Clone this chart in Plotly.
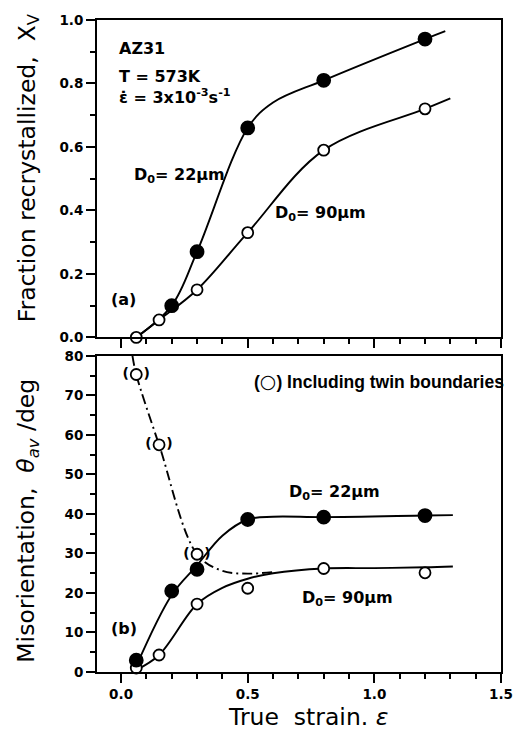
import plotly.graph_objects as go

# ---------------- data ----------------
# (a) fraction recrystallized
strain_a_22 = [0.2, 0.3, 0.5, 0.8, 1.2]
xv_22 = [0.10, 0.27, 0.66, 0.81, 0.94]
strain_a_90 = [0.06, 0.15, 0.3, 0.5, 0.8, 1.2]
xv_90 = [0.0, 0.055, 0.15, 0.33, 0.59, 0.72]
# hand-drawn guide curves (a)
fit_a_22_x = [0.06, 0.2, 0.3, 0.5, 0.6, 0.8, 1.2, 1.28]
fit_a_22_y = [0.0, 0.10, 0.27, 0.66, 0.74, 0.81, 0.94, 0.965]
fit_a_90_x = [0.06, 0.15, 0.3, 0.5, 0.8, 1.2, 1.3]
fit_a_90_y = [0.0, 0.055, 0.15, 0.33, 0.59, 0.72, 0.753]

# (b) misorientation
strain_b_22 = [0.06, 0.2, 0.3, 0.5, 0.8, 1.2]
theta_22 = [3.0, 20.5, 26.0, 38.6, 39.2, 39.6]
strain_b_90 = [0.06, 0.15, 0.3, 0.5, 0.8, 1.2]
theta_90 = [1.0, 4.3, 17.2, 21.2, 26.2, 25.1]
strain_twin = [0.06, 0.15, 0.3]
theta_twin = [75.3, 57.5, 29.8]
# hand-drawn guide curves (b)
fit_b_22_x = [0.06, 0.2, 0.3, 0.4, 0.5, 0.6, 0.8, 1.2, 1.31]
fit_b_22_y = [1.5, 19.5, 27.0, 34.5, 38.6, 39.3, 39.2, 39.6, 39.7]
fit_b_90_x = [0.06, 0.15, 0.3, 0.4, 0.5, 0.6, 0.8, 1.0, 1.2, 1.31]
fit_b_90_y = [0.5, 4.3, 17.2, 21.3, 23.6, 25.0, 26.2, 26.3, 26.5, 26.7]
fit_twin_x = [0.045, 0.06, 0.15, 0.3, 0.4, 0.5, 0.6]
fit_twin_y = [80.0, 75.3, 57.5, 29.8, 25.6, 24.9, 25.3]

x_ticks = [0.0, 0.5, 1.0, 1.5]
FONT = "DejaVu Sans"

fig = go.Figure()
line = dict(color="black", width=1.9, shape="spline", smoothing=1)

def add_line(x, y, xa, ya, dash="solid"):
    fig.add_trace(go.Scatter(x=x, y=y, mode="lines", xaxis=xa, yaxis=ya,
                             line=dict(line, dash=dash), showlegend=False,
                             hoverinfo="skip"))

def add_pts(x, y, xa, ya, filled):
    fig.add_trace(go.Scatter(
        x=x, y=y, mode="markers", xaxis=xa, yaxis=ya, cliponaxis=False,
        marker=dict(size=13 if filled else 11,
                    color="black" if filled else "white",
                    line=dict(color="black", width=1.8)),
        showlegend=False))

# panel (a)
add_line(fit_a_22_x, fit_a_22_y, "x", "y")
add_line(fit_a_90_x, fit_a_90_y, "x", "y")
add_pts(strain_a_90, xv_90, "x", "y", False)
add_pts(strain_a_22, xv_22, "x", "y", True)

# panel (b)
add_line(fit_b_22_x, fit_b_22_y, "x2", "y2")
add_line(fit_b_90_x, fit_b_90_y, "x2", "y2")
add_line(fit_twin_x, fit_twin_y, "x2", "y2", dash="10px,4px,2px,4px")
add_pts(strain_b_90, theta_90, "x2", "y2", False)
add_pts(strain_b_22, theta_22, "x2", "y2", True)
fig.add_trace(go.Scatter(
    x=strain_twin, y=theta_twin, mode="text", xaxis="x2", yaxis="y2",
    text=["(\u00a0\u00a0\u00a0)"] * len(strain_twin), cliponaxis=False,
    textfont=dict(family=FONT, size=14, color="black", weight="bold"),
    textposition="middle center", showlegend=False))
add_pts(strain_twin, theta_twin, "x2", "y2", False)

axis_common = dict(showline=True, linecolor="black", linewidth=2, mirror=True,
                   ticks="outside", ticklen=9, tickwidth=2, tickcolor="black",
                   showgrid=False, zeroline=False,
                   tickfont=dict(family=FONT, size=13.5, color="black", weight="bold"))

fig.update_layout(
    width=525, height=743,
    margin=dict(l=97, r=13, t=12, b=71),
    paper_bgcolor="white", plot_bgcolor="white",
    xaxis=dict(axis_common, domain=[0, 1], anchor="y", range=[-0.095, 1.5],
               tickvals=x_ticks, showticklabels=False,
               minor=dict(dtick=0.1, tick0=0, ticklen=5, tickwidth=1.5,
                          ticks="outside", tickcolor="black")),
    yaxis=dict(axis_common, domain=[0.5132, 1], anchor="x", range=[0, 1.0],
               dtick=0.2, tickformat=".1f",
               minor=dict(dtick=0.1, ticklen=5, tickwidth=1.5,
                          ticks="outside", tickcolor="black")),
    xaxis2=dict(axis_common, domain=[0, 1], anchor="y2", range=[-0.095, 1.5],
                tickvals=x_ticks, tickformat=".1f", matches="x",
                minor=dict(dtick=0.1, tick0=0, ticklen=5, tickwidth=1.5,
                           ticks="outside", tickcolor="black")),
    yaxis2=dict(axis_common, domain=[0, 0.4848], anchor="x2", range=[0, 80],
                dtick=10,
                minor=dict(dtick=5, ticklen=5, tickwidth=1.5,
                           ticks="outside", tickcolor="black")),
)

tfont = dict(family=FONT, size=16, color="black", weight="bold")
def note(text, x, y, xref, yref, xanchor="left", font=tfont):
    fig.add_annotation(text=text, x=x, y=y, xref=xref, yref=yref,
                       xanchor=xanchor, yanchor="middle", showarrow=False,
                       font=font)

note("AZ31", -0.018, 0.911, "x", "y")
note("T = 573K", -0.018, 0.822, "x", "y")
note("\u03b5\u0307 = 3x10<sup>-3</sup>s<sup>-1</sup>", -0.018, 0.758, "x", "y")
note("D<sub>0</sub>= 22\u00b5m", 0.043, 0.509, "x", "y")
note("D<sub>0</sub>= 90\u00b5m", 0.601, 0.390, "x", "y")
note("(a)", 0.009, 0.119, "x", "y", xanchor="center")
note("(<span style=\"font-family:DejaVu Sans;font-size:19px\">\u25cb</span>) Including twin boundaries",
     0.515, 73.75, "x2", "y2",
     font=dict(family="Liberation Sans, Arial", size=17.5, color="black", weight="bold"))
note("D<sub>0</sub>= 22\u00b5m", 0.654, 45.5, "x2", "y2")
note("D<sub>0</sub>= 90\u00b5m", 0.705, 18.6, "x2", "y2")
note("(b)", 0.011, 11, "x2", "y2", xanchor="center")

afont = dict(family=FONT, size=23.5, color="black")
fig.add_annotation(text="Fraction recrystallized,  X<sub>V</sub>", textangle=-90,
                   x=-0.171, y=0.774, xref="paper", yref="paper",
                   xanchor="center", yanchor="middle", showarrow=False, font=afont)
fig.add_annotation(text="Misorientation,  <i>\u03b8</i><sub><i>av</i></sub> /deg",
                   textangle=-90, x=-0.171, y=0.232, xref="paper", yref="paper",
                   xanchor="center", yanchor="middle", showarrow=False, font=afont)
fig.add_annotation(text="True  strain. <i>\u03b5</i>", x=0.522, y=-0.0697,
                   xref="paper", yref="paper", xanchor="center", yanchor="middle",
                   showarrow=False, font=afont)

fig.write_html("out.html")
